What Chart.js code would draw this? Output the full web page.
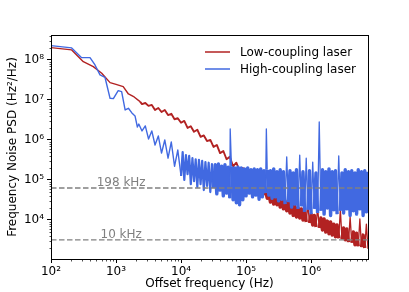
<!DOCTYPE html>
<html><head><meta charset="utf-8">
<script src="https://cdn.jsdelivr.net/npm/chart.js@4.4.1/dist/chart.umd.min.js"></script>
<style>html,body{margin:0;padding:0;background:#fff}#wrap{width:409px;height:292px;position:relative}</style>
</head><body><div id="wrap"><canvas id="c"></canvas></div>
<script>
const seriesNames = ['Low-coupling laser', 'High-coupling laser'];
const xTickValues = [1e2, 1e3, 1e4, 1e5, 1e6];
const xTickLabels = ['10²', '10³', '10⁴', '10⁵', '10⁶'];
const yTickValues = [1e4, 1e5, 1e6, 1e7, 1e8];
const yTickLabels = ['10⁴', '10⁵', '10⁶', '10⁷', '10⁸'];
const refNames = ['198 kHz', '10 kHz'];
const refLevels = [6.3e4, 3.18e3];
const xMin = 100, xMax = 7.5e6, yMin = 1.06e3, yMax = 4.2e8;

const lowFreq = [
100, 208, 314, 447, 603, 810, 1000, 1290, 1550, 1900, 2340,
2510, 2820, 3160, 3550, 3980, 4470, 5010, 5620, 6310, 7080,
7940, 8910, 1e4, 1.12e4, 1.26e4, 1.41e4, 1.58e4, 1.78e4, 2.0e4, 2.24e4,
2.51e4, 2.82e4, 3.16e4, 3.55e4, 3.98e4, 4.47e4, 5.01e4, 5.62e4, 6.31e4, 7.08e4,
7.94e4, 8.91e4, 1e5, 1.12e5, 1.26e5, 1.41e5, 1.58e5, 1.78e5,
1.884e5, 1.995e5, 2.113e5, 2.239e5, 2.371e5, 2.512e5, 2.661e5, 2.818e5, 2.985e5, 3.162e5,
3.350e5, 3.548e5, 3.758e5, 3.981e5, 4.217e5, 4.467e5, 4.732e5, 5.012e5, 5.309e5, 5.623e5,
5.957e5, 6.310e5, 6.683e5, 7.079e5, 7.499e5, 7.943e5, 8.414e5, 8.913e5, 9.441e5,
1e6, 1.059e6, 1.122e6, 1.189e6, 1.259e6, 1.334e6, 1.413e6, 1.496e6, 1.585e6, 1.679e6,
1.778e6, 1.884e6, 1.995e6, 2.113e6, 2.239e6, 2.371e6, 2.512e6, 2.661e6, 2.818e6, 2.985e6,
3.162e6, 3.350e6, 3.548e6, 3.758e6, 3.981e6, 4.217e6, 4.467e6, 4.732e6, 5.012e6, 5.309e6,
5.623e6, 5.957e6, 6.310e6, 6.683e6, 7.079e6, 7.499e6
];
const lowPsd = [
2.03e8, 1.78e8, 9.07e7, 6.8e7, 4.65e7, 2.71e7, 2.44e7, 2.15e7, 1.41e7, 1.19e7, 9.07e6,
7.9e6, 8.4e6, 7.1e6, 7.5e6, 5.6e6, 6.3e6, 5.0e6, 5.6e6, 4.2e6, 4.5e6,
3.3e6, 3.5e6, 2.7e6, 3.0e6, 2.0e6, 2.2e6, 1.6e6, 1.8e6, 1.2e6, 1.3e6,
9.4e5, 1.0e6, 6.7e5, 7.5e5, 4.7e5, 5.3e5, 3.3e5, 3.8e5, 2.2e5, 2.7e5,
1.7e5, 2.0e5, 1.26e5, 1.5e5, 8.9e4, 1.06e5, 6.0e4, 6.7e4,
4.2e4, 5.3e4, 3.5e4, 4.5e4, 2.8e4, 4.0e4, 2.5e4, 3.8e4, 2.4e4, 3.3e4,
2.1e4, 3.2e4, 1.9e4, 3.0e4, 1.7e4, 2.7e4, 1.5e4, 2.5e4, 1.3e4, 2.2e4,
1.19e4, 2.0e4, 1.12e4, 1.9e4, 1.0e4, 1.8e4, 8.9e3, 2.4e4, 8.4e3,
1.4e4, 7.5e3, 1.3e4, 6.7e3, 2.1e4, 6.3e3, 1.12e4, 5.6e3, 1.06e4, 5.0e3,
9.4e3, 4.5e3, 8.9e3, 4.2e3, 7.9e3, 3.8e3, 7.5e3, 3.5e3, 1.8e4, 3.3e3,
6.3e3, 3.2e3, 6.0e3, 2.8e3, 1.19e4, 2.7e3, 5.0e3, 2.4e3, 4.7e3, 2.2e3,
1.06e4, 2.1e3, 4.2e3, 2.0e3, 7.9e3, 1.9e3
];

const highFreq = [
100, 208, 296, 398, 475, 567, 676, 810, 910, 1080, 1220, 1380, 1550, 1740, 1960, 2130,
2240, 2510, 2820, 3160, 3550, 3980, 4470, 5010, 5620, 6310, 7080, 7940, 8910,
1.0e4, 1.059e4, 1.122e4, 1.189e4, 1.259e4, 1.334e4, 1.413e4, 1.496e4, 1.585e4, 1.679e4,
1.778e4, 1.884e4, 1.995e4, 2.113e4, 2.239e4, 2.371e4, 2.512e4, 2.661e4, 2.818e4, 2.985e4,
3.162e4, 3.350e4, 3.548e4, 3.758e4, 3.981e4, 4.217e4, 4.467e4, 4.732e4, 5.012e4, 5.309e4,
5.623e4, 5.7e4, 5.957e4, 6.310e4, 6.683e4, 7.079e4, 7.499e4, 7.943e4, 8.414e4, 8.913e4, 9.441e4,
1e5, 1.059e5, 1.122e5, 1.189e5, 1.259e5, 1.334e5, 1.413e5, 1.496e5, 1.585e5, 1.679e5,
1.778e5, 1.884e5, 1.995e5, 2.05e5, 2.113e5, 2.239e5, 2.371e5, 2.512e5, 2.661e5, 2.818e5, 2.985e5,
3.162e5, 3.350e5, 3.548e5, 3.758e5, 3.981e5, 4.217e5, 4.467e5, 4.732e5, 5.012e5, 5.309e5,
5.623e5, 5.957e5, 6.310e5, 6.683e5, 7.079e5, 7.499e5, 7.943e5, 8.414e5, 8.913e5, 9.441e5,
1e6, 1.059e6, 1.122e6, 1.189e6, 1.259e6, 1.334e6, 1.413e6, 1.496e6, 1.585e6, 1.679e6,
1.778e6, 1.884e6, 1.995e6, 2.113e6, 2.239e6, 2.371e6, 2.512e6, 2.661e6, 2.818e6, 2.985e6,
3.162e6, 3.350e6, 3.548e6, 3.758e6, 3.981e6, 4.217e6, 4.467e6, 4.732e6, 5.012e6, 5.309e6,
5.623e6, 5.957e6, 6.310e6, 6.683e6, 7.079e6, 7.499e6
];
const highPsd = [
2.28e8, 2.0e8, 1.14e8, 1.14e8, 7.5e7, 4.22e7, 3.69e7, 1.10e7, 1.08e7, 1.71e7, 1.61e7, 5.62e6, 6.2e6, 4.81e6, 3.98e6, 2.1e6,
2.5e6, 1.68e6, 2.24e6, 1.06e6, 1.68e6, 7.5e5, 1.26e6, 4.7e5, 1.0e6, 3.5e5, 8.9e5, 2.2e5, 5.6e5,
1.26e5, 5.0e5, 1.0e5, 4.2e5, 1.4e5, 4.0e5, 7.9e4, 3.5e5, 9.4e4, 3.3e5,
6.7e4, 3.2e5, 7.9e4, 3.0e5, 5.6e4, 2.8e5, 7.1e4, 2.7e5, 5.0e4, 2.5e5,
6.3e4, 2.4e5, 4.5e4, 2.5e5, 5.6e4, 2.2e5, 4.0e4, 2.4e5, 4.7e4, 2.1e5,
3.5e4, 1.88e6, 2.2e5, 3.2e4, 2.0e5, 2.7e4, 2.1e5, 2.4e4, 2.0e5, 3.2e4, 1.9e5,
4.0e4, 2.0e5, 4.7e4, 1.8e5, 3.8e4, 1.9e5, 4.2e4, 1.8e5, 3.3e4, 1.9e5,
3.8e4, 1.7e5, 4.7e4, 1.88e6, 1.8e5, 4.2e4, 1.7e5, 3.5e4, 1.9e5, 3.8e4, 1.6e5,
3.0e4, 1.8e5, 3.3e4, 1.6e5, 2.5e4, 3.8e5, 2.8e4, 1.7e5, 2.1e4, 1.5e5,
2.5e4, 1.8e5, 1.9e4, 4.2e5, 2.2e4, 1.6e5, 1.6e4, 3.5e5, 1.8e4, 1.7e5,
1.4e4, 2.8e5, 1.9e4, 1.5e5, 1.5e4, 2.82e6, 1.7e4, 1.8e5, 1.4e4, 1.6e5,
2.0e4, 1.9e5, 1.3e4, 1.6e5, 1.8e4, 1.7e5, 1.4e4, 4.0e5, 1.7e4, 1.5e5,
1.5e4, 1.8e5, 1.9e4, 1.6e5, 1.3e4, 1.7e5, 1.7e4, 1.5e5, 1.4e4, 1.8e5,
1.9e4, 1.6e5, 1.3e4, 1.7e5, 1.6e4, 1.6e5
];

const seriesColors = ['#B22222', '#4169E1'];
const FONT = 'DejaVu Sans';
const toPts = (xs, ys) => xs.map((v, i) => ({x: v, y: ys[i]}));

const decor = {
  id: 'decor',
  afterDraw(chart) {
    const {ctx, chartArea: a, scales: {x, y}} = chart;
    ctx.save();
    ctx.font = '12px "' + FONT + '"';
    ctx.fillStyle = '#808080';
    ctx.textAlign = 'center';
    ctx.textBaseline = 'alphabetic';
    refNames.forEach((t, i) => {
      ctx.fillText(t, x.getPixelForValue(1.2e3), y.getPixelForValue(refLevels[i]) - 2);
    });
    ctx.strokeStyle = '#000';
    ctx.lineWidth = 1;
    ctx.strokeRect(a.left + 0.5, a.top + 0.5, a.right - a.left, a.bottom - a.top);
    ctx.lineWidth = 0.7;
    ctx.beginPath();
    for (let n = 2; n <= 6; n++) for (let k = 2; k <= 9; k++) {
      const v = k * Math.pow(10, n);
      if (v < xMin || v > xMax) continue;
      const p = Math.round(x.getPixelForValue(v)) + 0.5;
      ctx.moveTo(p, a.bottom + 0.5); ctx.lineTo(p, a.bottom + 2.5);
    }
    for (let n = 3; n <= 8; n++) for (let k = 2; k <= 9; k++) {
      const v = k * Math.pow(10, n);
      if (v < yMin || v > yMax) continue;
      const p = Math.round(y.getPixelForValue(v)) + 0.5;
      ctx.moveTo(a.left + 0.5, p); ctx.lineTo(a.left - 1.5, p);
    }
    ctx.stroke();
    ctx.font = '12px "' + FONT + '"';
    ctx.textAlign = 'left';
    ctx.textBaseline = 'middle';
    const ly = [52, 69];
    seriesNames.forEach((n, i) => {
      ctx.strokeStyle = seriesColors[i];
      ctx.lineWidth = 1.5;
      ctx.beginPath(); ctx.moveTo(205, ly[i]); ctx.lineTo(230, ly[i]); ctx.stroke();
      ctx.fillStyle = '#000';
      ctx.fillText(n, 240, ly[i] + 0.5);
    });
    ctx.restore();
  }
};

const dashDs = (lvl) => ({
  data: [{x: xMin, y: lvl}, {x: xMax, y: lvl}],
  borderColor: '#808080', borderWidth: 1.3, borderDash: [5.5, 2.5],
  pointRadius: 0, fill: false
});

// line weight: thin for clean parts and isolated spurs, heavy where the trace is a dense noise band
const blueWidth = c => {
  const f = c.p0.parsed.x, a = c.p0.parsed.y, b = c.p1.parsed.y;
  if (f >= 3e4) return (a > 2.6e5 || b > 2.6e5) ? 1.3 : 3.4;
  return f >= 9.9e3 ? 2.2 : 1.4;
};
const redWidth = c => {
  const f = c.p0.parsed.x, a = c.p0.parsed.y, b = c.p1.parsed.y;
  if (f >= 1.8e5) return Math.max(a / b, b / a) > 2.5 ? 1.3 : 3.4;
  return f >= 2.3e3 ? 1.9 : 1.4;
};

new Chart(document.getElementById('c'), {
  type: 'line',
  data: {
    datasets: [
      dashDs(refLevels[0]),
      dashDs(refLevels[1]),
      {label: seriesNames[1], data: toPts(highFreq, highPsd), borderColor: seriesColors[1], borderWidth: 1.4,
       pointRadius: 0, fill: false, borderJoinStyle: 'round', tension: 0, segment: {borderWidth: blueWidth}},
      {label: seriesNames[0], data: toPts(lowFreq, lowPsd), borderColor: seriesColors[0], borderWidth: 1.4,
       pointRadius: 0, fill: false, borderJoinStyle: 'round', tension: 0, segment: {borderWidth: redWidth}}
    ]
  },
  options: {
    responsive: true, maintainAspectRatio: false, animation: false,
    layout: {padding: {top: 35, right: 41, bottom: 0, left: 0}},
    plugins: {legend: {display: false}, tooltip: {enabled: false}},
    scales: {
      x: {
        type: 'logarithmic', min: xMin, max: xMax,
        border: {display: false},
        grid: {display: true, drawOnChartArea: false, drawTicks: true, tickLength: 4, tickWidth: 1, tickColor: '#000'},
        ticks: {autoSkip: false, maxRotation: 0, color: '#000', padding: 2, font: {family: FONT, size: 12},
                callback: (v, i) => xTickLabels[i]},
        afterBuildTicks: s => { s.ticks = xTickValues.map(v => ({value: v})); },
        afterFit: s => { s.height = 33; },
        title: {display: true, text: 'Offset frequency (Hz)', color: '#000', font: {family: FONT, size: 12}, padding: {top: 0, bottom: 0.5}}
      },
      y: {
        type: 'logarithmic', min: yMin, max: yMax,
        border: {display: false},
        grid: {display: true, drawOnChartArea: false, drawTicks: true, tickLength: 4, tickWidth: 1, tickColor: '#000'},
        ticks: {autoSkip: false, color: '#000', padding: 3, font: {family: FONT, size: 12},
                callback: (v, i) => yTickLabels[i]},
        afterBuildTicks: s => { s.ticks = yTickValues.map(v => ({value: v})); },
        afterFit: s => { s.width = 51; },
        title: {display: true, text: 'Frequency Noise PSD (Hz²/Hz)', color: '#000', font: {family: FONT, size: 12}, padding: {top: 5.5, bottom: 0}}
      }
    }
  },
  plugins: [decor]
});
</script>
</body></html>
